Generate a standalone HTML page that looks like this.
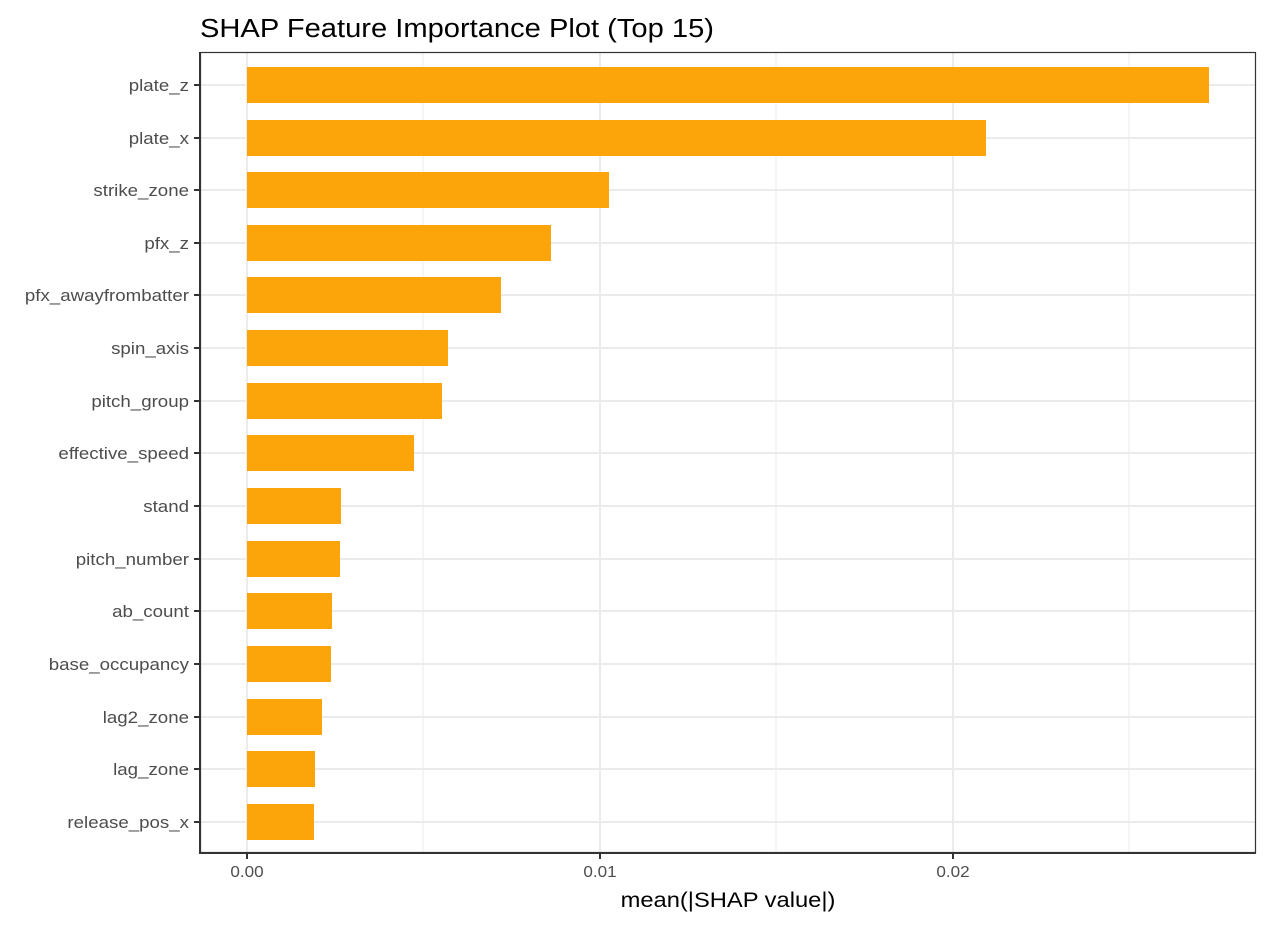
<!DOCTYPE html>
<html><head><meta charset="utf-8"><style>body{margin:0;background:#fff}</style></head><body>
<svg width="1270" height="924" xmlns="http://www.w3.org/2000/svg" font-family="Liberation Sans, Arial, sans-serif">
<rect width="1270" height="924" fill="#fff"/>
<text transform="translate(200,37) scale(1.12,1)" x="0" y="0" font-size="26" fill="#000">SHAP Feature Importance Plot (Top 15)</text>
<g stroke="#ebebeb" stroke-width="1">
<line x1="423" y1="52" x2="423" y2="853"/><line x1="776" y1="52" x2="776" y2="853"/><line x1="1129" y1="52" x2="1129" y2="853"/>
</g>
<g stroke="#ebebeb" stroke-width="2">
<line x1="247" y1="52" x2="247" y2="853"/><line x1="600" y1="52" x2="600" y2="853"/><line x1="953" y1="52" x2="953" y2="853"/>
<line x1="201" y1="85" x2="1256" y2="85"/><line x1="201" y1="138" x2="1256" y2="138"/><line x1="201" y1="190" x2="1256" y2="190"/><line x1="201" y1="243" x2="1256" y2="243"/><line x1="201" y1="295" x2="1256" y2="295"/><line x1="201" y1="348" x2="1256" y2="348"/><line x1="201" y1="401" x2="1256" y2="401"/><line x1="201" y1="453" x2="1256" y2="453"/><line x1="201" y1="506" x2="1256" y2="506"/><line x1="201" y1="559" x2="1256" y2="559"/><line x1="201" y1="611" x2="1256" y2="611"/><line x1="201" y1="664" x2="1256" y2="664"/><line x1="201" y1="717" x2="1256" y2="717"/><line x1="201" y1="769" x2="1256" y2="769"/><line x1="201" y1="822" x2="1256" y2="822"/>
</g>
<g fill="#fca50a">
<rect x="247" y="67" width="962" height="36"/>
<rect x="247" y="120" width="739" height="36"/>
<rect x="247" y="172" width="362" height="36"/>
<rect x="247" y="225" width="304" height="36"/>
<rect x="247" y="277" width="254" height="36"/>
<rect x="247" y="330" width="201" height="36"/>
<rect x="247" y="383" width="195" height="36"/>
<rect x="247" y="435" width="167" height="36"/>
<rect x="247" y="488" width="94" height="36"/>
<rect x="247" y="541" width="93" height="36"/>
<rect x="247" y="593" width="85" height="36"/>
<rect x="247" y="646" width="84" height="36"/>
<rect x="247" y="699" width="75" height="36"/>
<rect x="247" y="751" width="68" height="36"/>
<rect x="247" y="804" width="67" height="36"/>
</g>
<rect x="200.5" y="52.5" width="1055" height="800" fill="none" stroke="#333" stroke-width="1.2"/>
<line x1="200" y1="853" x2="1256" y2="853" stroke="#333" stroke-width="2"/>
<line x1="200" y1="52" x2="200" y2="854" stroke="#333" stroke-width="2"/>
<g stroke="#333" stroke-width="2">
<line x1="247" y1="853" x2="247" y2="859"/><line x1="600" y1="853" x2="600" y2="859"/><line x1="953" y1="853" x2="953" y2="859"/>
<line x1="194" y1="85" x2="200" y2="85"/><line x1="194" y1="138" x2="200" y2="138"/><line x1="194" y1="190" x2="200" y2="190"/><line x1="194" y1="243" x2="200" y2="243"/><line x1="194" y1="295" x2="200" y2="295"/><line x1="194" y1="348" x2="200" y2="348"/><line x1="194" y1="401" x2="200" y2="401"/><line x1="194" y1="453" x2="200" y2="453"/><line x1="194" y1="506" x2="200" y2="506"/><line x1="194" y1="559" x2="200" y2="559"/><line x1="194" y1="611" x2="200" y2="611"/><line x1="194" y1="664" x2="200" y2="664"/><line x1="194" y1="717" x2="200" y2="717"/><line x1="194" y1="769" x2="200" y2="769"/><line x1="194" y1="822" x2="200" y2="822"/>
</g>
<g font-size="17" fill="#4d4d4d" text-anchor="end" transform="translate(189,0) scale(1.1,1) translate(-189,0)">
<text x="189" y="91">plate_z</text><text x="189" y="144">plate_x</text><text x="189" y="196">strike_zone</text><text x="189" y="249">pfx_z</text><text x="189" y="301">pfx_awayfrombatter</text><text x="189" y="354">spin_axis</text><text x="189" y="407">pitch_group</text><text x="189" y="459">effective_speed</text><text x="189" y="512">stand</text><text x="189" y="565">pitch_number</text><text x="189" y="617">ab_count</text><text x="189" y="670">base_occupancy</text><text x="189" y="723">lag2_zone</text><text x="189" y="775">lag_zone</text><text x="189" y="828">release_pos_x</text>
</g>
<g font-size="16" fill="#4d4d4d" text-anchor="middle">
<text transform="translate(247,877) scale(1.07,1)">0.00</text><text transform="translate(600,877) scale(1.07,1)">0.01</text><text transform="translate(953,877) scale(1.07,1)">0.02</text>
</g>
<text transform="translate(728,907) scale(1.13,1)" font-size="21" text-anchor="middle" fill="#000">mean(|SHAP value|)</text>
</svg>
</body></html>
